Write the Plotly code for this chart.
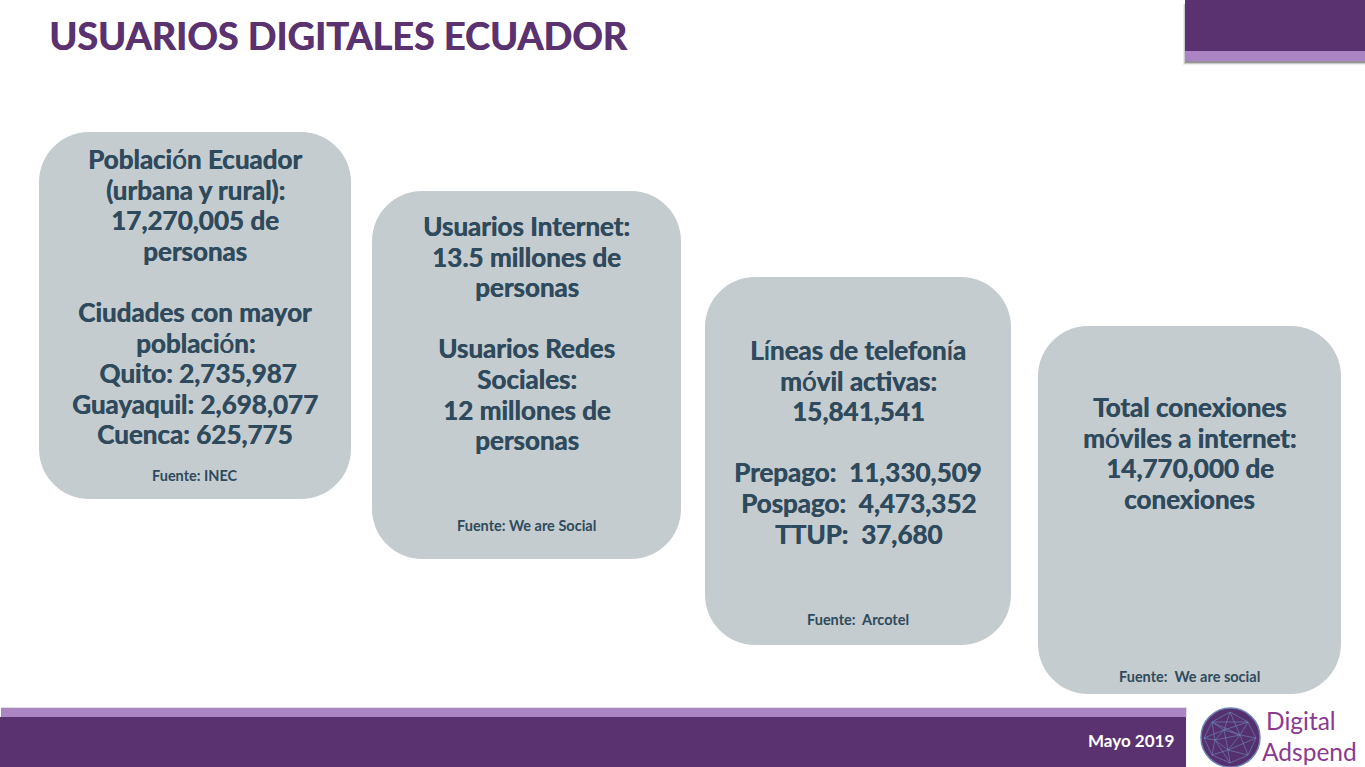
import plotly.graph_objects as go

TITLE = "USUARIOS DIGITALES ECUADOR"
DATE = "Mayo 2019"
LOGO = ["Digital", "Adspend"]
L = "<span style='font-weight:400'>%s</span>"
card1 = ["Poblaci" + L % "ó" + "n Ecuador", "(urbana y rural):", "17,270,005 de", "personas", "",
         "Ciudades con mayor", "poblaci" + L % "ó" + "n:", " Quito: 2,735,987", "Guayaquil: 2,698,077", "Cuenca: 625,775"]
card2 = ["Usuarios Internet:", "13.5 millones de", "personas", "",
         "Usuarios Redes", "Sociales:", "12 millones de", "personas"]
card3 = ["L" + L % "í" + "neas de telefon" + L % "í" + "a", "m" + L % "ó" + "vil activas:", "15,841,541", "",
         "Prepago:  11,330,509", "Pospago:  4,473,352", "TTUP:  37,680"]
card4 = ["Total conexiones", "m" + L % "ó" + "viles a internet:", "14,770,000 de", "conexiones"]
sources = ["Fuente: INEC", "Fuente: We are Social", "Fuente:  Arcotel", "Fuente:  We are social"]
texts = [card1, card2, card3, card4]

# layout geometry (px)
boxes = [(39, 351, 132, 499), (372, 681, 191, 559), (705, 1011, 277, 645), (1038, 1341, 326, 694)]
first_y = [159, 226, 350, 407]
src_y = [475, 525, 619, 676]
STEP = 30.6
RADIUS = 50
DARK, LIGHT, CARD, INK = "#5b3270", "#ab84c4", "#c4cccf", "#2f4a5c"
FONT = "Lato"

fig = go.Figure()
shapes, ann = [], []

def rect(x0, x1, y0, y1, c, op=1.0):
    shapes.append(dict(type="rect", xref="x", yref="y", x0=x0, x1=x1, y0=y0, y1=y1,
                       fillcolor=c, opacity=op, line_width=0, layer="below"))

def text(x, y, s, size, color, anchor="center", weight=700, font=FONT, shadow=None):
    f = dict(family=font, size=size, color=color, weight=weight)
    if shadow:
        f["shadow"] = shadow
    ann.append(dict(x=x, y=y, xref="x", yref="y", text=s, showarrow=False, xanchor=anchor,
                    yanchor="middle", font=f))

# top-right tab with soft shadow
for i, op in enumerate([.10, .20, .40]):
    rect(1186 - (3 - i), 1365, 4, 65 - i, "#444444", op)
rect(1185, 1365, 0, 51, DARK)
rect(1185, 1365, 51, 61, LIGHT)

# footer
rect(1, 1187, 707, 717, "#dddddd")
rect(1, 1186, 708, 717, LIGHT)
rect(0, 1186, 717, 767, DARK)

# cards
for (x0, x1, y0, y1) in boxes:
    r = RADIUS
    path = (f"M{x0+r},{y0} L{x1-r},{y0} C{x1-r*.45},{y0} {x1},{y0+r*.45} {x1},{y0+r} L{x1},{y1-r} "
            f"C{x1},{y1-r*.45} {x1-r*.45},{y1} {x1-r},{y1} L{x0+r},{y1} C{x0+r*.45},{y1} {x0},{y1-r*.45} {x0},{y1-r} "
            f"L{x0},{y0+r} C{x0},{y0+r*.45} {x0+r*.45},{y0} {x0+r},{y0} Z")
    shapes.append(dict(type="path", path=path, xref="x", yref="y", fillcolor=CARD, line_width=0, layer="below"))

for box, lines, fy, sy, src in zip(boxes, texts, first_y, src_y, sources):
    cx = (box[0] + box[1]) / 2
    for i, s in enumerate(lines):
        if s:
            text(cx, fy + i * STEP, s, 26, INK, shadow=f"0.5px 0 0 {INK}")
    text(cx, sy, src, 14.5, INK)

text(47, 35, TITLE, 37.8, DARK, "left", 700, shadow=f"0.7px 0 0 {DARK}")
text(1131, 740, DATE, 17, "#ffffff")

# logo
shapes.append(dict(type="circle", xref="x", yref="y", x0=1201, x1=1260, y0=708, y1=767,
                   fillcolor="#55306f", line=dict(color="#6d83b5", width=1.5), layer="below"))
nodes = [(1212, 722), (1230, 712), (1248, 722), (1256, 738), (1248, 755), (1230, 763), (1212, 755),
         (1204, 738), (1224, 730), (1240, 735), (1228, 750), (1215, 740)]
links = [(0, 8), (1, 8), (2, 8), (2, 9), (3, 9), (4, 9), (4, 10), (5, 10), (6, 10), (6, 11), (7, 11), (0, 11),
         (8, 9), (9, 10), (10, 11), (11, 8), (0, 2), (3, 4), (5, 6), (1, 9), (7, 8), (3, 10), (0, 1), (1, 2), (2, 3),
         (4, 5), (6, 7), (7, 0), (5, 11), (0, 9), (8, 10), (9, 11)]
for a, b in links:
    shapes.append(dict(type="line", xref="x", yref="y", x0=nodes[a][0], y0=nodes[a][1], x1=nodes[b][0], y1=nodes[b][1],
                       line=dict(color="#6f88b8", width=0.8), opacity=0.8, layer="below"))
text(1264, 720, LOGO[0], 24.5, "#8b3a8f", "left", 400)
text(1260, 751, LOGO[1], 24.5, "#8b3a8f", "left", 400)

fig.update_layout(
    width=1365, height=767, margin=dict(l=0, r=0, t=0, b=0), autosize=False,
    paper_bgcolor="white", plot_bgcolor="white", showlegend=False,
    xaxis=dict(range=[0, 1365], visible=False, fixedrange=True),
    yaxis=dict(range=[767, 0], visible=False, fixedrange=True),
    shapes=shapes, annotations=ann,
)
fig.write_html("out.html", config=dict(displayModeBar=False),
               post_script="document.body.style.margin='0';document.documentElement.style.overflow='hidden';")
